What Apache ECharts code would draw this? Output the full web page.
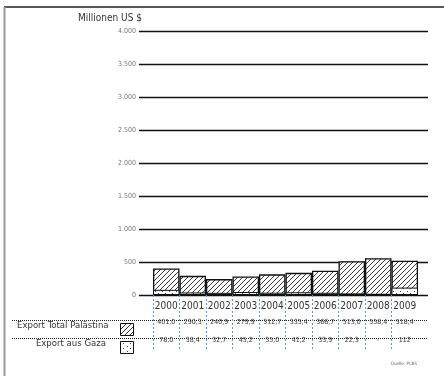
<!DOCTYPE html>
<html><head><meta charset="utf-8">
<script src="https://cdn.jsdelivr.net/npm/echarts@6/dist/echarts.min.js"></script>
<style>html,body{margin:0;padding:0;background:#fff}#c{width:444px;height:376px}</style>
</head><body><div id="c"></div>
<script>
const years = ['2000','2001','2002','2003','2004','2005','2006','2007','2008','2009'];
const exportTotal = [401.0, 290.3, 240.9, 279.9, 312.7, 335.4, 366.7, 513.0, 558.4, 518.4];
const exportGaza = [78.0, 38.4, 32.7, 45.2, 35.0, 41.2, 33.9, 22.3, null, 112];
const totalLabels = ['401,0','290,3','240,9','279,9','312,7','335,4','366,7','513,0','558,4','518,4'];
const gazaLabels = ['78,0','38,4','32,7','45,2','35,0','41,2','33,9','22,3','-','112'];
const yMin = 0, yMax = 4000, yStep = 500;
const rowLabels = ['Export Total Palästina', 'Export aus Gaza'];
const unitLabel = 'Millionen US $';
const sourceLabel = 'Quelle: PCBS';

const FONT = "'DejaVu Sans Condensed','Liberation Sans Narrow',sans-serif";

function hatchCanvas() {
  const s = 5, c = document.createElement('canvas'); c.width = c.height = s;
  const g = c.getContext('2d');
  g.fillStyle = '#fff'; g.fillRect(0, 0, s, s);
  g.strokeStyle = '#222'; g.lineWidth = 0.9;
  g.beginPath();
  g.moveTo(-1, s + 1); g.lineTo(s + 1, -1);
  g.moveTo(-1, 1); g.lineTo(1, -1);
  g.moveTo(s - 1, s + 1); g.lineTo(s + 1, s - 1);
  g.stroke();
  return c;
}
function dotCanvas() {
  const c = document.createElement('canvas'); c.width = 7; c.height = 5;
  const g = c.getContext('2d');
  g.fillStyle = '#fff'; g.fillRect(0, 0, 7, 5);
  g.fillStyle = '#444';
  g.fillRect(1, 1, 1, 1); g.fillRect(4, 3, 1, 1);
  return c;
}
const hatch = { image: hatchCanvas(), repeat: 'repeat' };
const dots = { image: dotCanvas(), repeat: 'repeat' };

const chart = echarts.init(document.getElementById('c'), null, { renderer: 'canvas' });
const hiddenAxis = { axisLine: { show: false }, axisTick: { show: false }, splitLine: { show: false } };

chart.setOption({
  animation: false,
  backgroundColor: '#fff',
  grid: [
    { left: 139, right: 16, top: 31, bottom: 81 },
    { left: 153, right: 26, top: 31, bottom: 81 }
  ],
  xAxis: [
    { gridIndex: 0, type: 'value', min: 0, max: 1, show: false },
    Object.assign({ gridIndex: 1, type: 'category', data: years,
      axisLabel: { interval: 0, margin: 6, fontSize: 10, color: '#333', fontFamily: FONT } }, hiddenAxis),
    Object.assign({ gridIndex: 1, type: 'category', data: years, position: 'bottom', offset: 22,
      axisLabel: { interval: 0, margin: 2, fontSize: 7, color: '#333', fontFamily: FONT,
        formatter: (v, i) => totalLabels[i] } }, hiddenAxis),
    Object.assign({ gridIndex: 1, type: 'category', data: years, position: 'bottom', offset: 40,
      axisLabel: { interval: 0, margin: 2, fontSize: 7, color: '#333', fontFamily: FONT,
        formatter: (v, i) => gazaLabels[i] } }, hiddenAxis),
    { gridIndex: 1, type: 'value', min: 0, max: years.length, position: 'bottom',
      axisLine: { show: false }, axisLabel: { show: false }, splitLine: { show: false },
      axisTick: { show: true, length: 56, customValues: years.map((_, i) => i),
        lineStyle: { color: '#5b9bd5', type: [2, 2], width: 1 } } }
  ],
  yAxis: [
    { gridIndex: 0, type: 'value', min: yMin, max: yMax, interval: yStep,
      axisLine: { show: false }, axisTick: { show: false },
      splitLine: { lineStyle: { color: '#111', width: 1.3 } },
      axisLabel: { margin: 3, fontSize: 7, color: '#777', fontFamily: FONT,
        formatter: v => String(v).replace(/\B(?=(\d{3})+(?!\d))/g, '.') } },
    { gridIndex: 1, type: 'value', min: yMin, max: yMax, interval: yStep, show: false }
  ],
  series: [
    { type: 'bar', xAxisIndex: 1, yAxisIndex: 1, data: exportTotal, barWidth: '100%', barGap: '-100%',
      itemStyle: { color: hatch, borderColor: '#111', borderWidth: 1.3 }, z: 3 },
    { type: 'bar', xAxisIndex: 1, yAxisIndex: 1, data: exportGaza, barWidth: '100%', barGap: '-100%',
      itemStyle: { color: dots, borderColor: '#111', borderWidth: 1 }, z: 4 }
  ],
  graphic: [
    { type: 'line', shape: { x1: 4, y1: 7, x2: 444, y2: 7 }, style: { stroke: '#222', lineWidth: 1.5 } },
    { type: 'line', shape: { x1: 4.5, y1: 7, x2: 4.5, y2: 376 }, style: { stroke: '#999', lineWidth: 2 } },
    { type: 'line', shape: { x1: 12, y1: 320.5, x2: 428, y2: 320.5 }, style: { stroke: '#222', lineWidth: 1, lineDash: [1, 1] } },
    { type: 'line', shape: { x1: 12, y1: 338.5, x2: 428, y2: 338.5 }, style: { stroke: '#222', lineWidth: 1, lineDash: [1, 1] } },
    { type: 'text', x: 142, y: 18, style: { text: unitLabel, textAlign: 'right', textVerticalAlign: 'middle', fontSize: 10, fill: '#333', fontFamily: FONT } },
    { type: 'text', x: 17, y: 326, style: { text: rowLabels[0], textAlign: 'left', textVerticalAlign: 'middle', fontSize: 9.5, fill: '#333', fontFamily: FONT } },
    { type: 'text', x: 106, y: 344, style: { text: rowLabels[1], textAlign: 'right', textVerticalAlign: 'middle', fontSize: 9.5, fill: '#333', fontFamily: FONT } },
    { type: 'rect', shape: { x: 120.5, y: 323.5, width: 13, height: 12 }, style: { fill: hatch, stroke: '#111', lineWidth: 1 } },
    { type: 'rect', shape: { x: 120.5, y: 341.5, width: 13, height: 12 }, style: { fill: dots, stroke: '#111', lineWidth: 1 } },
    { type: 'text', x: 417, y: 364, style: { text: sourceLabel, textAlign: 'right', textVerticalAlign: 'middle', fontSize: 4.5, fill: '#666', fontFamily: FONT } }
  ]
});
</script>
</body></html>
